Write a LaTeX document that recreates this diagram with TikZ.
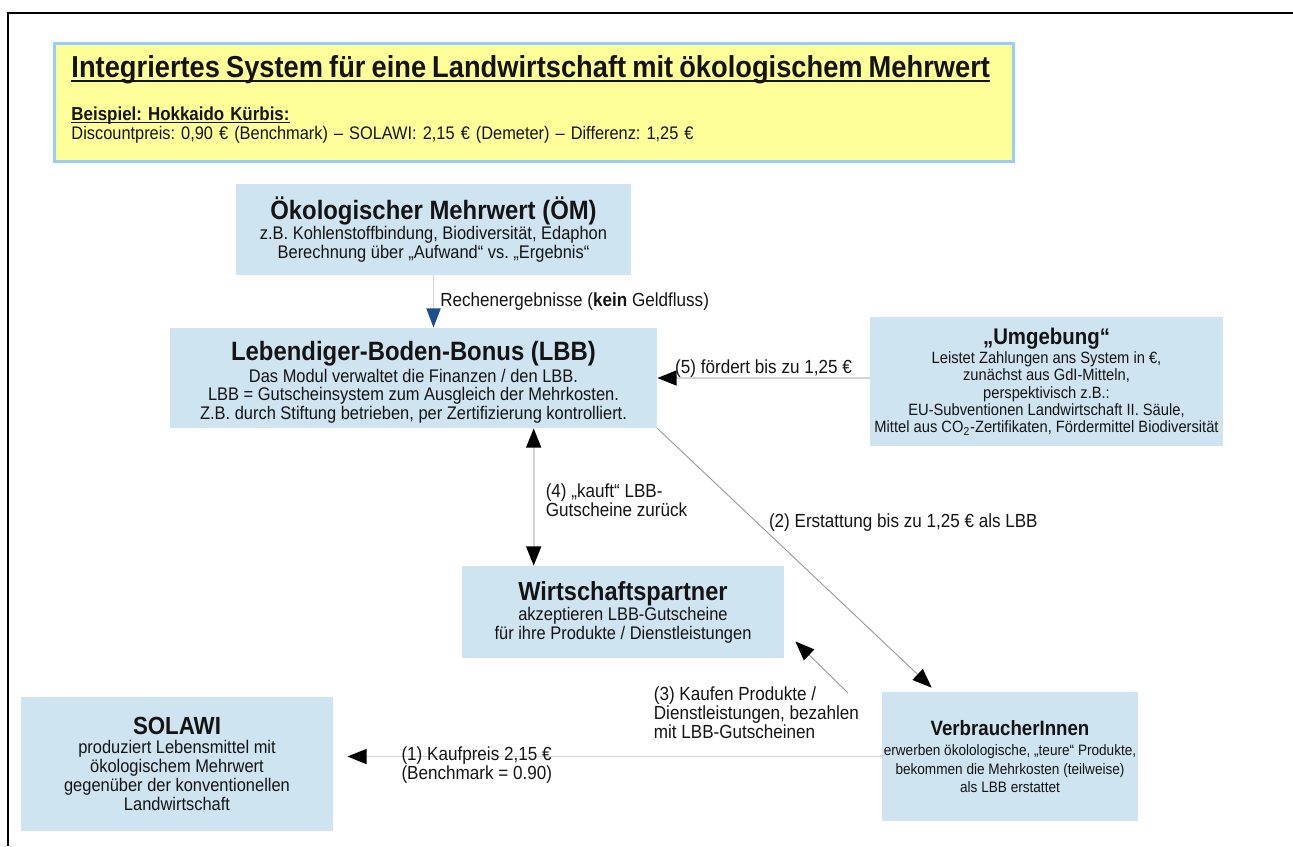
\documentclass[tikz,border=0pt]{standalone}
\usepackage{fontspec}
\setmainfont{Liberation Sans}[FakeStretch=0.9]
\frenchspacing
\lineskiplimit=-100pt
\usetikzlibrary{arrows.meta, positioning, calc}
\definecolor{boxBlue}{RGB}{207,228,241}
\definecolor{noteYellow}{RGB}{255,255,153}
\definecolor{noteBorder}{RGB}{153,204,255}
\definecolor{lineGray}{RGB}{212,212,212}
\definecolor{diagGray}{RGB}{150,150,150}
\definecolor{tipBlue}{RGB}{31,78,140}
\definecolor{textDark}{RGB}{20,20,20}
\newcommand{\boxtitle}[2][15.1]{{\fontsize{#1}{#1}\selectfont\bfseries #2}}
\newcommand{\uln}[1]{\leavevmode\setbox0\hbox{#1}\rlap{\rule[-0.14em]{\wd0}{0.07em}}\box0}

\begin{document}
\begin{tikzpicture}[
    x=0.02cm, y=-0.02cm,
    box/.style={
        rectangle,
        fill=boxBlue,
        align=center,
        inner sep=0pt,
        text=textDark,
        font=\fontsize{10.4}{10.6}\selectfont
    },
    note/.style={
        rectangle,
        fill=noteYellow,
        draw=noteBorder,
        line width=1.7pt,
        align=left,
        text=textDark,
        inner xsep=0.34cm,
        text width=18.5cm,
        minimum height=2.36cm,
        font=\fontsize{10.35}{11}\selectfont
    },
    lbl/.style={font=\fontsize{10.8}{10.8}\selectfont, align=left, text=textDark},
    flow/.style={draw=lineGray, line width=1.1pt, -{Triangle[length=11pt, width=8.5pt, color=black]}},
    diag/.style={draw=diagGray, line width=0.5pt, -{Triangle[length=11pt, width=8.5pt, color=black]}}
]
    \useasboundingbox (0,0) rectangle (1293,846);
    \draw[line width=1.7pt] (1293,13) -- (8,13) -- (8,846);

    % Header
    \node[note, anchor=north west] (header) at (53,42)
        {{\fontsize{17.25}{18}\selectfont\bfseries\uln{Integriertes System für eine Landwirtschaft mit ökologischem Mehrwert}}\\[12pt]
         {\fontsize{10.7}{11}\selectfont\bfseries\uln{Beispiel: Hokkaido Kürbis:}}\\
         Discountpreis: 0,90 € (Benchmark) – SOLAWI: 2,15 € (Demeter) – Differenz: 1,25 €\par\vspace*{3.4pt}};

    % Boxes
    \node[box, minimum width=7.9cm, minimum height=1.82cm] (oem) at (433.5,229.5)
        {\boxtitle{Ökologischer Mehrwert (ÖM)}\\[1pt]
         z.B. Kohlenstoffbindung, Biodiversität, Edaphon\\
         Berechnung über „Aufwand“ vs. „Ergebnis“};
    \node[box, minimum width=9.74cm, minimum height=2.0cm] (lbb) at (413.5,378)
        {\boxtitle{\rule{0pt}{16pt}Lebendiger-Boden-Bonus (LBB)}\\[1.5pt]
         Das Modul verwaltet die Finanzen / den LBB.\\
         LBB = Gutscheinsystem zum Ausgleich der Mehrkosten.\\
         Z.B. durch Stiftung betrieben, per Zertifizierung kontrolliert.};
    \node[box, minimum width=7.06cm, minimum height=2.58cm, font=\fontsize{9.3}{9.9}\selectfont] (umg) at (1046.5,381.5)
        {\boxtitle[12.9]{„Umgebung“}\\[1pt]
         Leistet Zahlungen ans System in €,\\
         zunächst aus GdI-Mitteln,\\
         perspektivisch z.B.:\\
         EU-Subventionen Landwirtschaft II. Säule,\\
         Mittel aus CO\textsubscript{2}-Zertifikaten, Fördermittel Biodiversität};
    \node[box, minimum width=6.44cm, minimum height=1.84cm] (wp) at (623,612)
        {\boxtitle[14.9]{Wirtschaftspartner}\\[1pt]
         akzeptieren LBB-Gutscheine\\
         für ihre Produkte / Dienstleistungen};
    \node[box, minimum width=6.24cm, minimum height=2.68cm, font=\fontsize{10.4}{10.8}\selectfont] (sol) at (177,764)
        {\boxtitle[14.1]{SOLAWI}\\
         produziert Lebensmittel mit\\
         ökologischem Mehrwert\\
         gegenüber der konventionellen\\
         Landwirtschaft};
    \node[box, minimum width=5.12cm, minimum height=2.58cm, font=\fontsize{8.6}{10.5}\selectfont] (vb) at (1010,756.5)
        {\boxtitle[11.8]{VerbraucherInnen}\\[1pt]
         erwerben ökolologische, „teure“ Produkte,\\
         bekommen die Mehrkosten (teilweise)\\
         als LBB erstattet};

    % Arrows
    \draw[draw=lineGray, line width=1.1pt, -{Triangle[length=11pt, width=8pt, color=tipBlue]}]
        (oem.south) -- (oem.south |- lbb.north)
        node[lbl, midway, right] (l0) {Rechenergebnisse (\textbf{kein} Geldfluss)};
    \draw[flow] (lbb.east -| umg.west) -- (lbb.east)
        node[lbl, midway, above, yshift=-3.5pt] (l5) {(5) fördert bis zu 1,25 €};
    \coordinate (lw) at ($(wp.north west)+(72,0)$);
    \draw[flow, {Triangle[length=11pt, width=8.5pt, color=black]}-{Triangle[length=11pt, width=8.5pt, color=black]}]
        (lw |- lbb.south) -- (lw)
        node[lbl, midway, right, xshift=3pt, yshift=-2pt] (l4) {(4) „kauft“ LBB-\\Gutscheine zurück};
    \draw[diag] (lbb.south east) -- ($(vb.north west)+(50,-4)$)
        node[lbl, pos=0.365, right, xshift=3pt] (l2) {(2) Erstattung bis zu 1,25 € als LBB};
    \draw[diag] ($(vb.north west)+(-34,1)$) -- ($(wp.south east)+(11,-17)$)
        node[lbl, at start, anchor=north east, yshift=7pt, xshift=10pt] (l3)
        {(3) Kaufen Produkte /\\Dienstleistungen, bezahlen\\mit LBB-Gutscheinen};
    \draw[flow, shorten >=8] (vb.west) -- (vb.west -| sol.east)
        node[lbl, pos=0.872, anchor=west, xshift=-5pt, yshift=-5pt] (l1) {(1) Kaufpreis 2,15 €\\(Benchmark = 0.90)};

\end{tikzpicture}
\end{document}
